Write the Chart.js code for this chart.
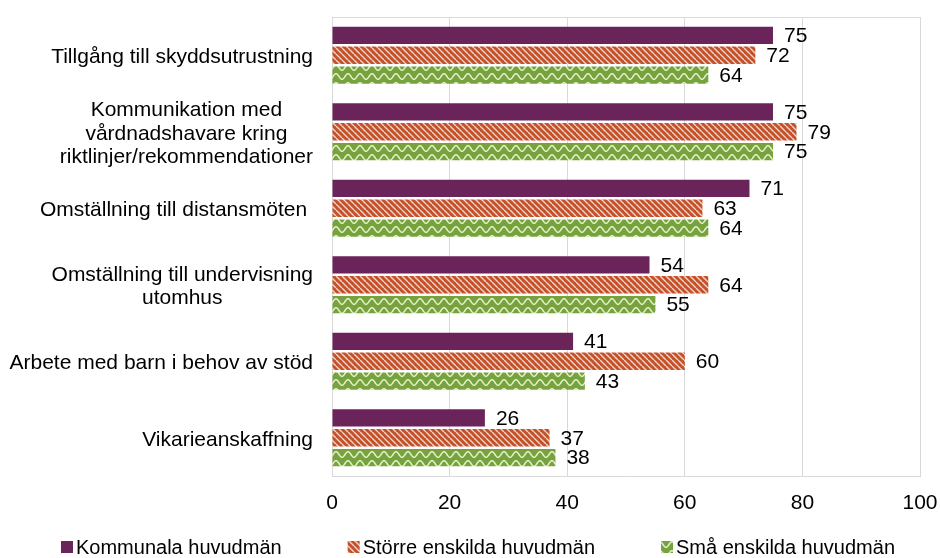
<!DOCTYPE html>
<html>
<head>
<meta charset="utf-8">
<script src="https://cdn.jsdelivr.net/npm/chart.js@4"></script>
<style>
  html, body { margin: 0; padding: 0; background: #fff; }
</style>
</head>
<body>
<canvas id="chart" width="940" height="558"></canvas>
<script>
var categories = [
    ["Tillgång till skyddsutrustning"],
    ["Kommunikation med", "vårdnadshavare kring", "riktlinjer/rekommendationer"],
    ["Omställning till distansmöten "],
    ["Omställning till undervisning", "utomhus"],
    ["Arbete med barn i behov av stöd"],
    ["Vikarieanskaffning"]
];
var seriesNames = ["Kommunala huvudmän", "Större enskilda huvudmän", "Små enskilda huvudmän"];
var kommunala = [75, 75, 71, 54, 41, 26];
var storre = [72, 79, 63, 64, 60, 37];
var sma = [64, 75, 64, 55, 43, 38];
var xTicks = [0, 20, 40, 60, 80, 100];

var FONT = "'Liberation Sans', Arial, sans-serif";

// fill patterns
function stripePattern() {
    var c = document.createElement('canvas');
    c.width = 6; c.height = 6;
    var g = c.getContext('2d');
    g.fillStyle = '#C4512A';
    g.fillRect(0, 0, 6, 6);
    g.strokeStyle = 'rgba(255,235,225,0.85)';
    g.lineWidth = 1.4;
    [-6, 0, 6].forEach(function (k) {
        g.beginPath();
        g.moveTo(k, 0);
        g.lineTo(k + 6, 6);
        g.stroke();
    });
    return g.createPattern(c, 'repeat');
}
function wavePattern() {
    var c = document.createElement('canvas');
    c.width = 12; c.height = 9;
    var g = c.getContext('2d');
    g.fillStyle = '#78A23E';
    g.fillRect(0, 0, 12, 9);
    g.strokeStyle = 'rgba(235,248,215,0.9)';
    g.lineWidth = 1.5;
    g.beginPath();
    for (var x = -1; x <= 13; x += 0.5) {
        var y = 4.5 - 2.8 * Math.cos(2 * Math.PI * x / 12);
        if (x === -1) g.moveTo(x, y); else g.lineTo(x, y);
    }
    g.stroke();
    return g.createPattern(c, 'repeat');
}

var fills = ['#6A2459', stripePattern(), wavePattern()];

var frameAndLabels = {
    id: 'frameAndLabels',
    afterDatasetsDraw: function (chart) {
        var ctx = chart.ctx, a = chart.chartArea;
        ctx.save();
        // top border of plot frame
        ctx.strokeStyle = '#D9D9D9';
        ctx.lineWidth = 1;
        ctx.beginPath();
        ctx.moveTo(a.left, a.top + 0.5);
        ctx.lineTo(a.right, a.top + 0.5);
        ctx.stroke();

        // value labels
        ctx.fillStyle = '#000';
        ctx.font = '21px ' + FONT;
        ctx.textAlign = 'left';
        ctx.textBaseline = 'middle';
        chart.data.datasets.forEach(function (ds, di) {
            chart.getDatasetMeta(di).data.forEach(function (bar, i) {
                ctx.fillText(ds.data[i], bar.x + 11, bar.y + 1);
            });
        });

        // category labels: block right-aligned, lines centred in block
        var yScale = chart.scales.y;
        var right = a.left - 19;
        var lh = 23.5;
        categories.forEach(function (lines, i) {
            var w = 0;
            lines.forEach(function (l) { w = Math.max(w, ctx.measureText(l).width); });
            var cx = right - w / 2;
            var cy = yScale.getPixelForValue(i) + 2;
            ctx.textAlign = 'center';
            lines.forEach(function (l, j) {
                ctx.fillText(l, cx, cy + (j - (lines.length - 1) / 2) * lh);
            });
        });

        // legend
        ctx.font = '20px ' + FONT;
        ctx.textAlign = 'left';
        var box = 12, gapBox = 3, gap = 66;
        var widths = seriesNames.map(function (n) { return box + gapBox + ctx.measureText(n).width; });
        var total = widths.reduce(function (s, v) { return s + v; }, 0) + gap * (widths.length - 1);
        var x = 478 - total / 2, ly = 547;
        seriesNames.forEach(function (n, k) {
            ctx.fillStyle = fills[k];
            ctx.fillRect(x, ly - box / 2, box, box);
            ctx.fillStyle = '#000';
            ctx.fillText(n, x + box + gapBox, ly + 1);
            x += widths[k] + gap;
        });
        ctx.restore();
    }
};

var ctx = document.getElementById('chart');
var chart = new Chart(ctx, {
    type: 'bar',
    data: {
        labels: categories,
        datasets: [
            { label: seriesNames[0], data: kommunala, backgroundColor: fills[0] },
            { label: seriesNames[1], data: storre, backgroundColor: fills[1] },
            { label: seriesNames[2], data: sma, backgroundColor: fills[2] }
        ]
    },
    options: {
        indexAxis: 'y',
        responsive: false,
        animation: false,
        devicePixelRatio: 1,
        categoryPercentage: 0.78,
        barPercentage: 0.87,
        layout: { padding: { top: 17, right: 20, left: 0, bottom: 0 } },
        plugins: {
            legend: { display: false },
            tooltip: { enabled: false }
        },
        scales: {
            x: {
                min: 0,
                max: 100,
                afterBuildTicks: function (s) {
                    s.ticks = xTicks.map(function (v) { return { value: v }; });
                },
                afterFit: function (s) {
                    s.height = 82;
                    s.paddingLeft = 0;
                    s.paddingRight = 0;
                },
                ticks: {
                    color: '#000',
                    padding: 15,
                    font: { family: FONT, size: 21 }
                },
                grid: { color: '#D9D9D9', drawTicks: false },
                border: { display: true, color: '#D9D9D9' }
            },
            y: {
                afterFit: function (s) { s.width = 332; },
                ticks: { display: false },
                grid: { display: false, drawTicks: false },
                border: { display: true, color: '#D9D9D9' }
            }
        }
    },
    plugins: [frameAndLabels]
});
</script>
</body>
</html>
